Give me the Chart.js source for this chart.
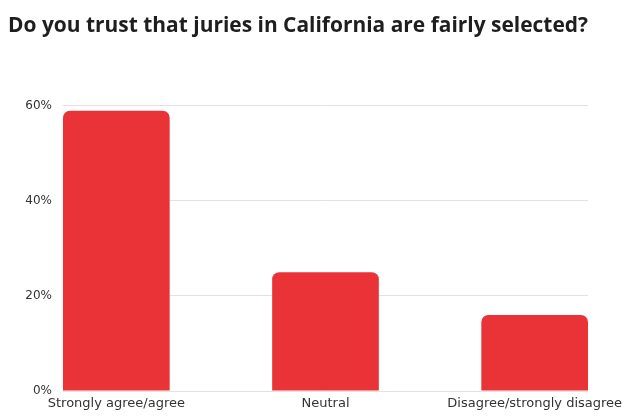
<!DOCTYPE html>
<html>
<head>
<meta charset="utf-8">
<script src="https://cdn.jsdelivr.net/npm/chart.js@4"></script>
<style>
  html, body { margin: 0; padding: 0; background: #fff; }
  #wrap { width: 629px; height: 416px; }
</style>
</head>
<body>
<div id="wrap"><canvas id="grafico" width="629" height="416"></canvas></div>
<script>
// Respuestas a la encuesta
const categorias = ['Strongly agree/agree', 'Neutral', 'Disagree/strongly disagree'];
const porcentajes = [59, 25, 16];
const ticksY = [0, 20, 40, 60];
const titulo = 'Do you trust that juries in California are fairly selected?';

const rojo = '#ea3337';
const fuenteEjes = "'DejaVu Sans', sans-serif";

// Puntos {x, y} para poder usar un eje x lineal
const puntos = porcentajes.map((v, i) => ({ x: i, y: v }));

new Chart(document.getElementById('grafico'), {
  type: 'bar',
  data: {
    datasets: [{
      data: puntos,
      backgroundColor: rojo,
      borderRadius: 7,
      categoryPercentage: 1,
      barPercentage: 0.51
    }]
  },
  options: {
    responsive: false,
    animation: false,
    layout: { padding: { left: 8, right: 41, top: 0, bottom: 0 } },
    plugins: {
      legend: { display: false },
      tooltip: { enabled: false },
      title: {
        display: true,
        text: titulo,
        align: 'start',
        color: '#1e1e1e',
        font: { family: "'Open Sans', sans-serif", size: 21.6, weight: 'bold', lineHeight: 1.2 },
        padding: { top: 13, bottom: 67 }
      }
    },
    scales: {
      x: {
        type: 'linear',
        offset: false,
        min: -0.255,
        max: 2.255,
        grid: { display: false, drawTicks: false },
        border: { display: false },
        afterBuildTicks: s => { s.ticks = categorias.map((_, i) => ({ value: i })); },
        // la etiqueta de la derecha cabe en el margen, no hace falta encoger el área
        afterFit: s => { s.paddingLeft = 0; s.paddingRight = 0; },
        ticks: {
          includeBounds: false,
          padding: 6,
          maxRotation: 0,
          autoSkip: false,
          color: '#333',
          font: { family: fuenteEjes, size: 13, lineHeight: 1 },
          callback: v => categorias[v] || ''
        }
      },
      y: {
        min: 0,
        max: 60,
        afterBuildTicks: s => { s.ticks = ticksY.map(v => ({ value: v })); },
        afterFit: s => { s.width = 55; },
        grid: { color: '#e2e2e2', drawTicks: false },
        border: { display: false },
        ticks: {
          padding: 11,
          color: '#333',
          font: { family: fuenteEjes, size: 12 },
          callback: v => v + '%'
        }
      }
    }
  }
});
</script>
</body>
</html>
